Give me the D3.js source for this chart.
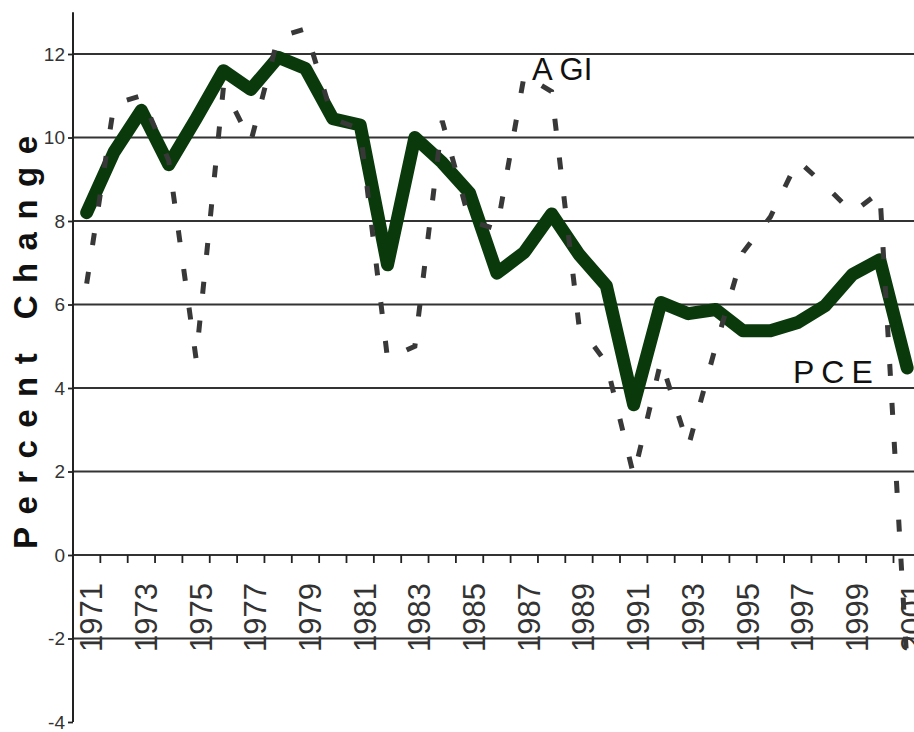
<!DOCTYPE html>
<html><head><meta charset="utf-8">
<script src="https://cdn.jsdelivr.net/npm/d3@7"></script>
<style>html,body{margin:0;padding:0;background:#fff;overflow:hidden}</style>
</head><body>
<svg id="c" width="914" height="732"></svg>
<script>
const years = d3.range(1971, 2002).map(String);
const pce = [8.2, 9.65, 10.65, 9.35, 10.45, 11.6, 11.15, 11.92, 11.65, 10.45, 10.3, 6.95, 10.0, 9.4, 8.67, 6.75, 7.25, 8.17, 7.2, 6.45, 3.6, 6.05, 5.78, 5.88, 5.37, 5.37, 5.57, 5.97, 6.72, 7.07, 4.48];
const agi = [6.5, 10.8, 11.0, 9.45, 4.7, 11.2, 9.9, 12.4, 12.6, 10.45, 10.2, 4.7, 5.0, 10.4, 8.0, 7.8, 11.5, 11.1, 5.5, 4.6, 1.9, 4.65, 2.6, 5.0, 7.25, 8.1, 9.45, 8.85, 8.2, 8.7, -2.7];
const yTicks = [-4, -2, 0, 2, 4, 6, 8, 10, 12];
const xLabels = years.filter((d, i) => i % 2 === 0);

const svg = d3.select("#c");
const left = 73, band = 27.35;
const x = d3.scaleBand().domain(years).range([left, left + band * years.length]).padding(0);
const y = d3.scaleLinear().domain([-4, 12]).range([722, 54]);
const cx = d => x(d) + x.bandwidth() / 2;

// gridlines
svg.append("g").selectAll("line").data(yTicks.filter(v => v !== -4)).join("line")
  .attr("x1", left).attr("x2", 914).attr("y1", d => y(d)).attr("y2", d => y(d))
  .attr("stroke", "#333").attr("stroke-width", 1.8);

// y axis
const ya = svg.append("g").attr("transform", `translate(${left},0)`)
  .call(d3.axisLeft(y).tickValues(yTicks).tickFormat(d => String(d)).tickSize(5).tickSizeOuter(0).tickPadding(3));
ya.select(".domain").remove();
ya.selectAll(".tick line").attr("stroke", "#222").attr("stroke-width", 1.8);
ya.selectAll(".tick text").attr("font-family", "Liberation Sans, Arial, sans-serif")
  .attr("font-size", 19).attr("fill", "#333");
ya.append("line").attr("x1", 0).attr("x2", 0).attr("y1", y(13)).attr("y2", y(-4))
  .attr("stroke", "#222").attr("stroke-width", 2);

// x ticks at band boundaries
const bounds = years.slice(1).map(d => x(d)).concat([x(years[years.length - 1]) + x.bandwidth()]);
svg.append("g").selectAll("line").data(bounds).join("line")
  .attr("x1", d => d).attr("x2", d => d).attr("y1", y(0)).attr("y2", y(0) + 8)
  .attr("stroke", "#222").attr("stroke-width", 1.8);

// x labels
svg.append("g").selectAll("text").data(xLabels).join("text")
  .attr("transform", d => `translate(${cx(d) + 15.5},583) rotate(-90)`)
  .attr("text-anchor", "end")
  .attr("font-family", "Liberation Sans, Arial, sans-serif")
  .attr("font-size", 31).attr("fill", "#333")
  .text(d => d);

// lines
const line = data => d3.line().x((d, i) => cx(years[i])).y(d => y(d))(data);
svg.append("path").attr("d", line(pce)).attr("fill", "none")
  .attr("stroke", "#0a3a0c").attr("stroke-width", 13)
  .attr("stroke-linejoin", "round").attr("stroke-linecap", "round");
svg.append("path").attr("d", line(agi)).attr("fill", "none")
  .attr("stroke", "#383838").attr("stroke-width", 5)
  .attr("stroke-dasharray", "12 27");

// labels
svg.append("text").attr("x", 532).attr("y", 80)
  .attr("font-family", "Liberation Sans, Arial, sans-serif").attr("font-size", 31)
  .attr("fill", "#111").text("A GI");
svg.append("text").attr("x", 793).attr("y", 383)
  .attr("font-family", "Liberation Sans, Arial, sans-serif").attr("font-size", 32)
  .attr("letter-spacing", "7px").attr("fill", "#111").text("PCE");

// y title
svg.append("text").attr("transform", "translate(37,549) rotate(-90)")
  .attr("text-anchor", "start")
  .attr("font-family", "Liberation Sans, Arial, sans-serif").attr("font-size", 33)
  .attr("font-weight", "bold").attr("textLength", 413).attr("lengthAdjust", "spacing")
  .attr("fill", "#111")
  .text("Percent Change");
</script>
</body></html>
